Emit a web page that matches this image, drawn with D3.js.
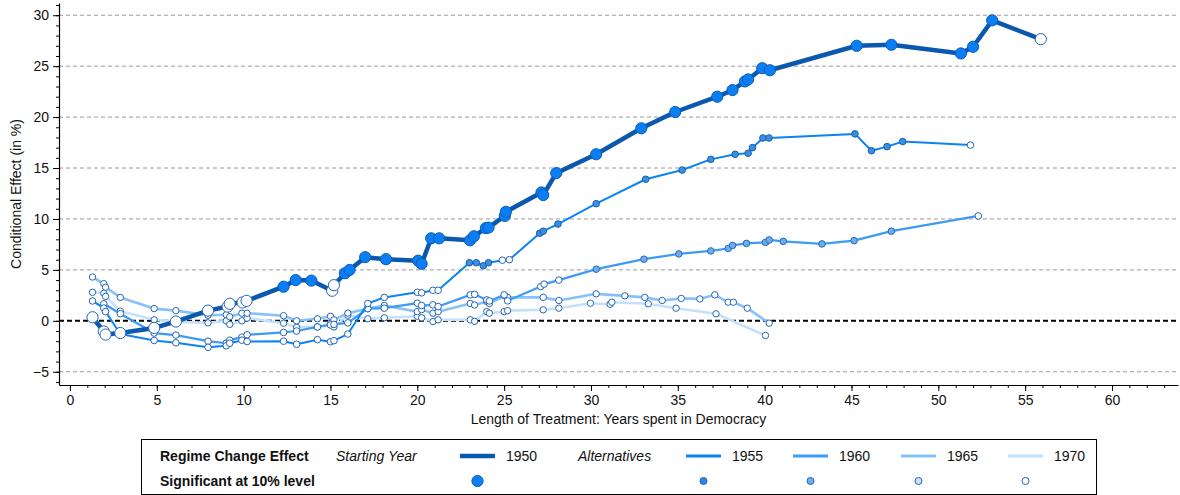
<!DOCTYPE html>
<html>
<head>
<meta charset="utf-8">
<script src="https://cdn.jsdelivr.net/npm/d3@7"></script>
<style>
  html, body { margin: 0; padding: 0; background: #fff; }
  svg { display: block; font-family: "Liberation Sans", Arial, Helvetica, sans-serif; }
</style>
</head>
<body>
<svg id="chart" width="1180" height="495"></svg>
<script>
// ---------------- data ----------------
const seriesNames = ["1950", "1955", "1960", "1965", "1970"];

const x1950 = [1.3, 1.95, 2.05, 2.9, 4.85, 6.1, 7.95, 9.08, 9.2, 9.94, 10.17, 12.3, 13.0, 13.9, 15.1, 15.2, 15.83, 16.1, 17.0, 18.2, 20.05, 20.25, 20.8, 21.26, 23.03, 23.26, 23.95, 24.1, 25.04, 25.1, 27.15, 27.25, 28.0, 30.3, 32.9, 34.85, 37.27, 38.15, 38.86, 39.05, 39.86, 40.3, 45.3, 47.3, 51.3, 52.0, 53.1, 55.9];
const y1950 = [0.35, -1.05, -1.35, -1.2, -0.7, -0.07, 1.0, 1.4, 1.67, 1.8, 1.96, 3.35, 4.0, 3.95, 2.95, 3.5, 4.67, 5.0, 6.25, 6.05, 5.9, 5.6, 8.1, 8.1, 7.9, 8.3, 9.1, 9.15, 10.3, 10.7, 12.6, 12.35, 14.5, 16.35, 18.9, 20.5, 22.0, 22.65, 23.5, 23.7, 24.8, 24.6, 27.0, 27.1, 26.25, 26.9, 29.5, 27.65];
const s1950 = [0,0,0,0,0,0,0,0,0,0,0, 1,1,1, 0,0, 1,1,1,1,1,1,1,1,1,1,1,1,1,1,1,1,1,1,1,1,1,1,1,1,1,1,1,1,1,1,1, 0];

const x1955 = [1.3, 1.95, 2.05, 2.9, 4.85, 6.1, 7.95, 9.0, 9.2, 9.9, 10.2, 12.3, 13.05, 14.25, 15.0, 15.2, 16.0, 17.15, 18.1, 20.0, 20.25, 20.9, 21.2, 23.0, 23.4, 23.8, 24.1, 24.9, 25.3, 27.05, 27.25, 28.1, 30.3, 33.15, 35.25, 36.9, 38.3, 39.05, 39.3, 39.9, 40.25, 45.2, 46.15, 47.05, 47.95, 51.85];
const y1955 = [1.95, 1.25, 0.9, -1.3, -1.93, -2.16, -2.6, -2.45, -2.2, -1.9, -2.03, -2.0, -2.3, -1.85, -2.05, -1.95, -1.3, 1.7, 2.3, 2.8, 2.75, 3.0, 3.0, 5.7, 5.7, 5.4, 5.7, 5.95, 6.0, 8.6, 8.8, 9.5, 11.5, 13.9, 14.8, 15.85, 16.35, 16.45, 17.0, 17.95, 17.95, 18.35, 16.7, 17.1, 17.6, 17.25];
const s1955 = [0,0,0,0,0,0,0,0,0,0,0,0,0,0,0,0,0,0,0,0,0,0,0, 1,1,1,1, 0,0, 1,1,1,1,1,1,1,1,1,1,1,1,1,1,1,1, 0];

const x1960 = [1.95, 2.9, 4.85, 6.1, 7.95, 9.0, 9.2, 9.9, 10.2, 12.3, 13.05, 14.25, 15.0, 15.2, 16.0, 17.15, 18.1, 20.0, 20.25, 20.9, 21.2, 23.05, 23.3, 24.0, 24.15, 25.0, 25.2, 27.1, 27.3, 28.15, 30.3, 33.05, 35.06, 36.9, 37.9, 38.15, 38.95, 40.05, 40.26, 41.07, 43.3, 45.15, 47.3, 52.3];
const y1960 = [1.67, 0.7, -1.2, -1.4, -2.0, -2.2, -1.9, -1.6, -1.37, -1.14, -1.0, -0.6, -0.4, -0.35, -0.2, 1.2, 1.24, 1.73, 1.5, 1.57, 1.4, 2.55, 2.6, 2.05, 1.95, 2.55, 1.96, 3.36, 3.6, 4.0, 5.07, 6.05, 6.57, 6.86, 7.1, 7.4, 7.6, 7.7, 7.94, 7.8, 7.55, 7.87, 8.8, 10.3];
const s1960 = [0,0,0,0,0,0,0,0,0,0,0,0,0,0,0,0,0,0,0,0,0,0,0,0,0,0,0,0,0,0, 1,1,1,1,1,1,1,1,1,1,1,1,1, 0];

const x1965 = [1.3, 1.95, 2.05, 2.9, 4.85, 6.1, 7.95, 9.0, 9.2, 9.9, 10.2, 12.3, 13.05, 14.25, 15.0, 15.2, 16.0, 17.15, 18.1, 20.0, 20.25, 20.9, 21.2, 23.05, 23.3, 24.0, 24.15, 25.04, 25.2, 27.25, 28.15, 30.3, 31.95, 33.1, 34.1, 35.2, 36.27, 37.13, 37.9, 38.2, 39.0, 40.26];
const y1965 = [4.3, 3.65, 3.3, 2.3, 1.2, 1.0, 0.55, 0.6, 0.4, 0.75, 0.75, 0.5, 0.0, 0.2, 0.45, 0.1, 0.75, 1.2, 1.5, 0.9, 1.1, 0.75, 0.9, 1.7, 1.55, 1.9, 1.7, 2.45, 2.3, 2.3, 2.0, 2.65, 2.45, 2.3, 2.0, 2.2, 2.15, 2.55, 1.83, 1.83, 1.24, -0.23];
const s1965 = [0,0,0,0,0,0,0,0,0,0,0,0,0,0,0,0,0,0,0,0,0,0,0,0,0,0,0,0,0,0,0,0,0,0,0,0,0,0,0,0,0,0];

const x1970 = [1.3, 1.95, 2.05, 2.9, 4.85, 6.1, 7.95, 9.0, 9.2, 9.9, 10.2, 12.3, 13.05, 14.25, 15.0, 15.2, 16.0, 17.15, 18.1, 20.0, 20.25, 20.9, 21.2, 23.05, 23.3, 24.0, 24.15, 25.0, 25.2, 27.25, 28.15, 29.97, 31.1, 31.2, 33.3, 34.9, 37.2, 40.05];
const y1970 = [2.8, 2.7, 2.4, 0.95, 0.1, -0.1, -0.2, 0.0, -0.35, 0.0, 0.26, -0.23, -0.62, -0.6, -0.25, -0.6, 0.55, 0.2, 0.3, 0.45, 0.3, -0.07, 0.1, 0.1, -0.05, 0.9, 0.75, 0.9, 1.0, 1.08, 1.24, 1.73, 1.63, 1.83, 1.67, 1.24, 0.69, -1.44];
const s1970 = [0,0,0,0,0,0,0,0,0,0,0,0,0,0,0,0,0,0,0,0,0,0,0,0,0,0,0,0,0,0,0,0,0,0,0,0,0,0];

const xTicks = [0, 5, 10, 15, 20, 25, 30, 35, 40, 45, 50, 55, 60];
const yTicks = [-5, 0, 5, 10, 15, 20, 25, 30];

// ---------------- styling ----------------
const style = {
  "1950": { line: "#0b59ae", width: 4.5, r: 5.6, fill: "#0a7ef5", stroke: "#0a5cb5" },
  "1955": { line: "#0a84f5", width: 2.0, r: 3.3, fill: "#3b8fe3", stroke: "#1a5ea8" },
  "1960": { line: "#3d9af5", width: 2.2, r: 3.3, fill: "#6badf0", stroke: "#2a6ab3" },
  "1965": { line: "#86c1fa", width: 2.6, r: 3.2, fill: "#c4e0f9", stroke: "#2a6ab3" },
  "1970": { line: "#c3e0fc", width: 2.6, r: 3.2, fill: "#ffffff", stroke: "#2a6ab3" }
};
const nsStroke = "#2366b8";

const data = {
  "1950": x1950.map((x, i) => ({ x, y: y1950[i], s: s1950[i] })),
  "1955": x1955.map((x, i) => ({ x, y: y1955[i], s: s1955[i] })),
  "1960": x1960.map((x, i) => ({ x, y: y1960[i], s: s1960[i] })),
  "1965": x1965.map((x, i) => ({ x, y: y1965[i], s: s1965[i] })),
  "1970": x1970.map((x, i) => ({ x, y: y1970[i], s: s1970[i] }))
};

// ---------------- scales ----------------
const svg = d3.select("#chart");
const plot = { left: 59, right: 1178, top: 3, bottom: 385 };
const x = d3.scaleLinear().domain([-0.63, 63.8]).range([plot.left, plot.right]);
const y = d3.scaleLinear().domain([-6.3, 31.2]).range([plot.bottom, plot.top]);

// grid
svg.append("g").selectAll("line")
  .data(yTicks.filter(d => d !== 0))
  .join("line")
  .attr("x1", plot.left).attr("x2", plot.right)
  .attr("y1", d => y(d)).attr("y2", d => y(d))
  .attr("stroke", "#9a9a9a").attr("stroke-width", 1)
  .attr("stroke-dasharray", "4,3");

svg.append("line")
  .attr("x1", plot.left).attr("x2", plot.right)
  .attr("y1", y(0)).attr("y2", y(0))
  .attr("stroke", "#000").attr("stroke-width", 2)
  .attr("stroke-dasharray", "5,3");

// axes
const fmt = d => d < 0 ? "\u2212" + (-d) : String(d);
const gx = svg.append("g").attr("transform", `translate(0,${plot.bottom})`);
gx.call(d3.axisBottom(x).tickValues(d3.range(0, 64, 1)).tickSize(3).tickFormat("").tickSizeOuter(0));
gx.call(g => g.select(".domain").remove());
const gx2 = svg.append("g").attr("transform", `translate(0,${plot.bottom})`);
gx2.call(d3.axisBottom(x).tickValues(xTicks).tickSize(6).tickPadding(4).tickFormat(fmt).tickSizeOuter(0));
gx2.selectAll("text").attr("font-size", 14).attr("fill", "#111").attr("font-family", "Liberation Sans, Arial, sans-serif");

const gy = svg.append("g").attr("transform", `translate(${plot.left},0)`);
gy.call(d3.axisLeft(y).tickValues(d3.range(-6, 32, 1)).tickSize(3).tickFormat("").tickSizeOuter(0));
gy.call(g => g.select(".domain").remove());
const gy2 = svg.append("g").attr("transform", `translate(${plot.left},0)`);
gy2.call(d3.axisLeft(y).tickValues(yTicks).tickSize(6).tickPadding(4).tickFormat(fmt).tickSizeOuter(0));
gy2.selectAll("text").attr("font-size", 14).attr("fill", "#111").attr("font-family", "Liberation Sans, Arial, sans-serif");
svg.selectAll(".domain").attr("stroke", "#000").attr("stroke-width", 1.2);
svg.selectAll(".tick line").attr("stroke", "#000");

// axis titles
svg.append("text")
  .attr("transform", `translate(21,${(plot.top + plot.bottom) / 2}) rotate(-90)`)
  .attr("text-anchor", "middle").attr("font-size", 14).attr("fill", "#111")
  .text("Conditional Effect (in %)");
svg.append("text")
  .attr("x", (plot.left + plot.right) / 2).attr("y", 424)
  .attr("text-anchor", "middle").attr("font-size", 14).attr("fill", "#111")
  .text("Length of Treatment: Years spent in Democracy");

// series
const line = d3.line().x(d => x(d.x)).y(d => y(d.y));
const order = ["1970", "1965", "1960", "1955", "1950"];
order.forEach(name => {
  const st = style[name];
  const g = svg.append("g");
  g.append("path").datum(data[name])
    .attr("d", line)
    .attr("fill", "none").attr("stroke", st.line).attr("stroke-width", st.width)
    .attr("stroke-linejoin", "round").attr("stroke-linecap", "round");
  g.selectAll("circle").data(data[name]).join("circle")
    .attr("cx", d => x(d.x)).attr("cy", d => y(d.y)).attr("r", st.r)
    .attr("fill", d => d.s ? st.fill : "#fff")
    .attr("stroke", d => d.s ? st.stroke : nsStroke)
    .attr("stroke-width", 1);
});

// legend
const lg = svg.append("g");
lg.append("rect").attr("x", 141.5).attr("y", 439.5).attr("width", 955).attr("height", 55)
  .attr("fill", "#fff").attr("stroke", "#000").attr("stroke-width", 1);
const row1 = 461, row2 = 486, rowMid1 = 456, rowMid2 = 481;
lg.append("text").attr("x", 160).attr("y", row1).attr("font-size", 14).attr("font-weight", "bold").text("Regime Change Effect");
lg.append("text").attr("x", 336).attr("y", row1).attr("font-size", 14).attr("font-style", "italic").text("Starting Year");
lg.append("text").attr("x", 578).attr("y", row1).attr("font-size", 14).attr("font-style", "italic").text("Alternatives");
lg.append("text").attr("x", 160).attr("y", row2).attr("font-size", 14).attr("font-weight", "bold").text("Significant at 10% level");

const legendX = { "1950": 460, "1955": 686, "1960": 793, "1965": 901, "1970": 1008 };
const legendDotFill = { "1950": "#0a7ef5", "1955": "#2a86e2", "1960": "#6caeee", "1965": "#c8e2fa", "1970": "#ffffff" };
seriesNames.forEach(name => {
  const st = style[name];
  const lx = legendX[name];
  lg.append("line").attr("x1", lx).attr("x2", lx + 35).attr("y1", rowMid1).attr("y2", rowMid1)
    .attr("stroke", st.line).attr("stroke-width", name === "1950" ? 4.5 : 3);
  lg.append("text").attr("x", lx + 46).attr("y", row1).attr("font-size", 14).text(name);
  lg.append("circle").attr("cx", lx + 17.5).attr("cy", rowMid2).attr("r", name === "1950" ? 5.6 : 3.5)
    .attr("fill", legendDotFill[name]).attr("stroke", name === "1950" ? st.stroke : nsStroke).attr("stroke-width", 1);
});
lg.selectAll("text").attr("fill", "#111");
</script>
</body>
</html>
